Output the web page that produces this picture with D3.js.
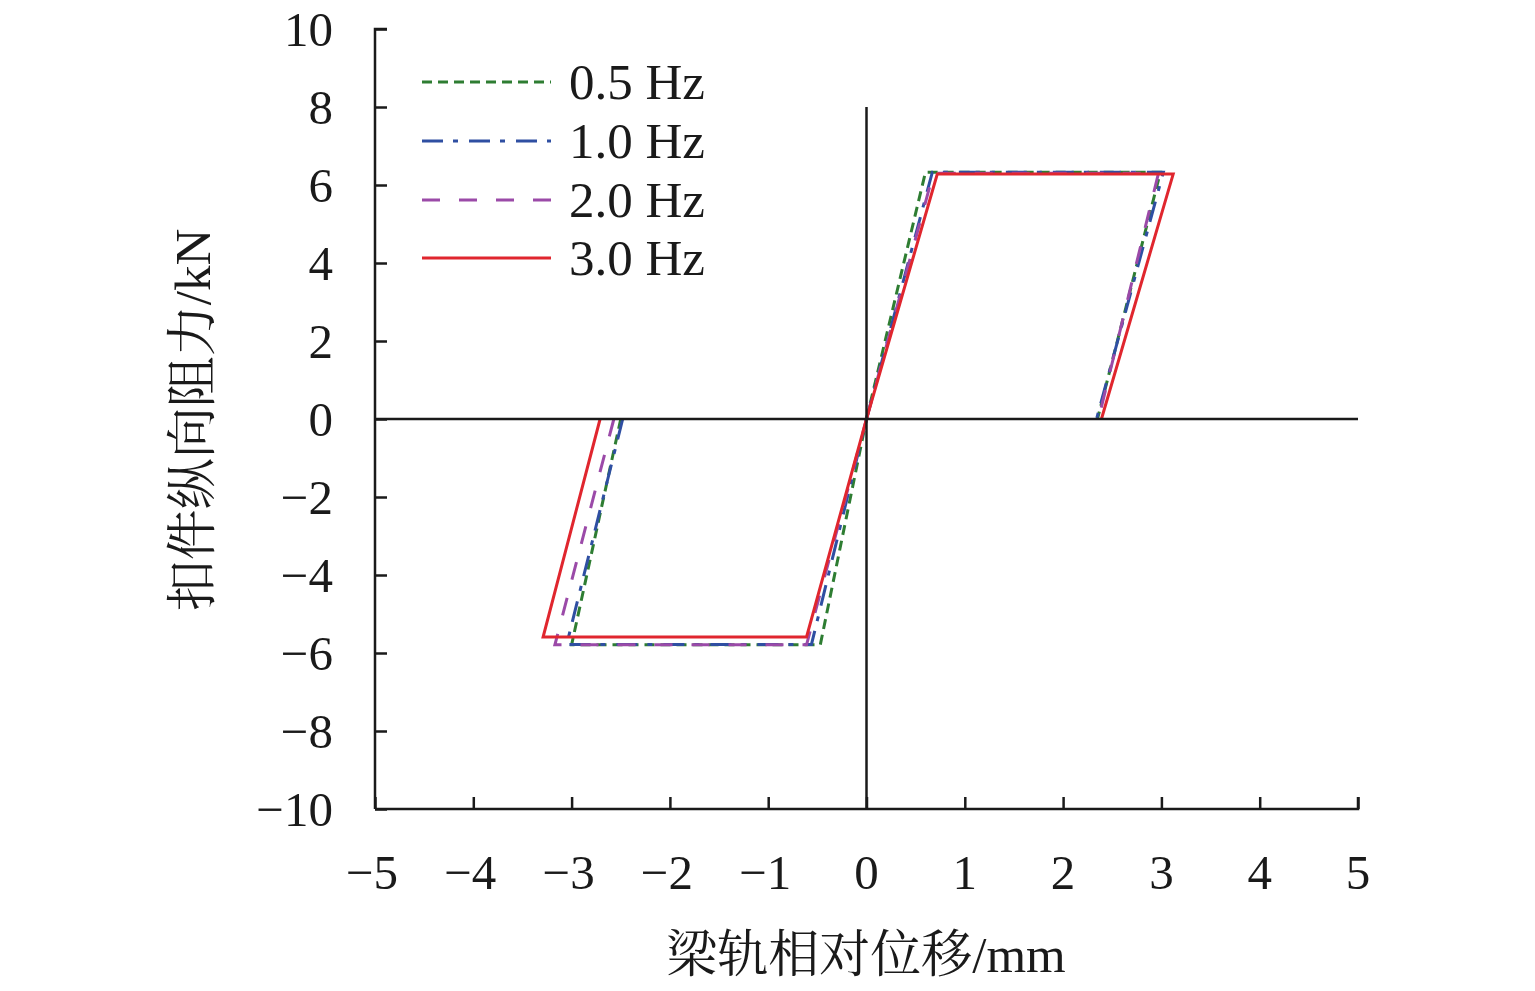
<!DOCTYPE html>
<html><head><meta charset="utf-8">
<script src="https://cdn.jsdelivr.net/npm/d3@7"></script>
<style>body{margin:0;background:#fff}svg{display:block}</style>
</head><body><svg id="c" width="1535" height="991"></svg>
<script>
const seriesNames = ["0.5 Hz", "1.0 Hz", "2.0 Hz", "3.0 Hz"];
const seriesColors = ["#2e7d32", "#2f4fa2", "#9b4aa8", "#e0262e"];
const seriesDash = ["10,6", "21,10,5,11", "18,19", null];
// loop branches [x (mm), y (kN)]: positive half and negative half
const loop05Pos = [[0,0],[0.60,6.33],[2.99,6.33],[2.35,0]];
const loop05Neg = [[-2.50,0],[-3.00,-5.79],[-0.47,-5.79],[0,0]];
const loop10Pos = [[0,0],[0.67,6.33],[3.02,6.33],[2.34,0]];
const loop10Neg = [[-2.48,0],[-3.05,-5.78],[-0.56,-5.78],[0,0]];
const loop20Pos = [[0,0],[0.68,6.30],[2.97,6.30],[2.36,0]];
const loop20Neg = [[-2.57,0],[-3.17,-5.79],[-0.61,-5.79],[0,0]];
const loop30Pos = [[0,0],[0.72,6.28],[3.12,6.28],[2.39,0]];
const loop30Neg = [[-2.71,0],[-3.29,-5.59],[-0.61,-5.59],[0,0]];
const loops = [[loop05Pos, loop05Neg], [loop10Pos, loop10Neg], [loop20Pos, loop20Neg], [loop30Pos, loop30Neg]];
const xTicks = [-5,-4,-3,-2,-1,0,1,2,3,4,5];
const yTicks = [-10,-8,-6,-4,-2,0,2,4,6,8,10];

const svg = d3.select("#c");
const x = d3.scaleLinear().domain([-5,5]).range([375,1358]);
const y = d3.scaleLinear().domain([-10,10]).range([809,29]);
const font = "'Liberation Serif','Times New Roman',serif";
const cjk = "'Liberation Serif','Noto Serif CJK SC','Noto Sans CJK SC',serif";
const fmt = d => d < 0 ? "\u2212" + Math.abs(d) : String(d);

const line = d3.line().x(d => x(d[0])).y(d => y(d[1]));
loops.forEach((pair, i) => {
  pair.forEach(l => {
    svg.append("path").attr("d", line(l)).attr("fill","none")
      .attr("stroke", seriesColors[i]).attr("stroke-width", 3)
      .attr("stroke-dasharray", seriesDash[i]);
  });
});

// zero axes
svg.append("line").attr("x1", x(-5)).attr("x2", x(5)).attr("y1", y(0)).attr("y2", y(0))
  .attr("stroke","#1a1a1a").attr("stroke-width",2.5);
svg.append("line").attr("x1", x(0)).attr("x2", x(0)).attr("y1", y(8)).attr("y2", y(-10))
  .attr("stroke","#1a1a1a").attr("stroke-width",2.5);

// left axis
const ya = svg.append("g").attr("transform", `translate(${x(-5)},0)`)
  .call(d3.axisRight(y).tickValues(yTicks).tickSize(12).tickFormat(""));
ya.select(".domain").attr("d", `M12,${y(10)}H0V${y(-10)}`);
ya.selectAll("line").attr("stroke","#1a1a1a").attr("stroke-width",2.5);
ya.select(".domain").attr("stroke","#1a1a1a").attr("stroke-width",2.5);
svg.append("g").selectAll("text").data(yTicks).join("text")
  .attr("x", 333).attr("y", d => y(d)).attr("dy","0.34em").attr("text-anchor","end")
  .attr("font-family", font).attr("font-size", 49).attr("fill","#1a1a1a").text(fmt);

// bottom axis
const xa = svg.append("g").attr("transform", `translate(0,${y(-10)})`)
  .call(d3.axisTop(x).tickValues(xTicks).tickSize(12).tickFormat(""));
xa.select(".domain").attr("d", `M${x(-5)},0H${x(5)}V-12`);
xa.selectAll("line").attr("stroke","#1a1a1a").attr("stroke-width",2.5);
xa.select(".domain").attr("stroke","#1a1a1a").attr("stroke-width",2.5);
svg.append("g").selectAll("text").data(xTicks).join("text")
  .attr("x", d => x(d) + (d < 0 ? -3 : 0)).attr("y", 889).attr("text-anchor","middle")
  .attr("font-family", font).attr("font-size", 49).attr("fill","#1a1a1a").text(fmt);

// axis titles
svg.append("text").attr("x", 866).attr("y", 972).attr("text-anchor","middle")
  .attr("font-family", cjk).attr("font-size", 51).attr("fill","#1a1a1a").text("梁轨相对位移/mm");
svg.append("text").attr("transform","translate(210,420) rotate(-90)").attr("text-anchor","middle")
  .attr("font-family", cjk).attr("font-size", 51).attr("fill","#1a1a1a").text("扣件纵向阻力/kN");

// legend
const ly = [82, 141, 200, 258];
seriesNames.forEach((n, i) => {
  svg.append("line").attr("x1", 422).attr("x2", 551).attr("y1", ly[i]).attr("y2", ly[i])
    .attr("stroke", seriesColors[i]).attr("stroke-width", 3).attr("stroke-dasharray", seriesDash[i]);
  svg.append("text").attr("x", 569).attr("y", ly[i]).attr("dy","0.34em")
    .attr("font-family", font).attr("font-size", 51).attr("fill","#1a1a1a").text(n);
});
</script></body></html>
